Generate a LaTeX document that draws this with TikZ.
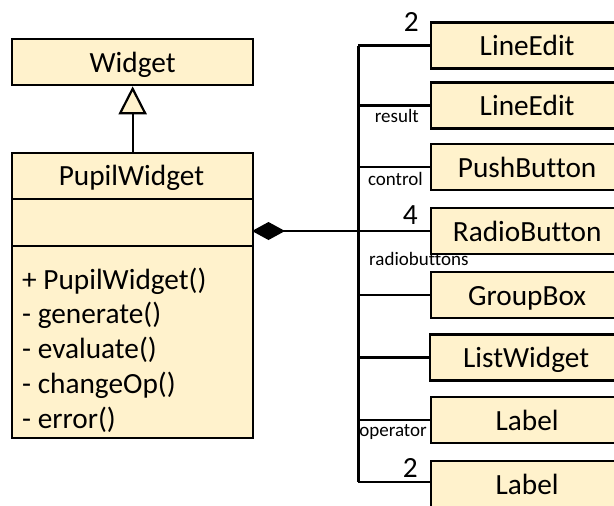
\documentclass[tikz,border=0pt]{standalone}
\usepackage{fontspec}
\setmainfont{Carlito}[Ligatures=NoCommon]
\usetikzlibrary{arrows.meta}
\definecolor{boxfill}{HTML}{FFF2CC}
\tikzset{
  bigfont/.style={font=\fontsize{29.3}{35}\selectfont},
  classbox/.style={draw=black, line width=2.3pt, fill=boxfill, rectangle, inner sep=0pt,
    bigfont, text height=20.5pt, text depth=0.5pt},
  partbox/.style={classbox, minimum width=192pt, minimum height=46pt, anchor=west},
  wire/.style={line width=2.2pt},
  busline/.style={line width=3pt},
  roletext/.style={font=\fontsize{19}{22}\selectfont, inner sep=0pt},
  multtext/.style={bigfont, inner sep=0pt},
  methodtext/.style={bigfont, inner sep=0pt, anchor=base west}
}
\begin{document}
\begin{tikzpicture}[x=1pt, y=-1pt]
\useasboundingbox (0,0) rectangle (614,506);
\clip (0,0) rectangle (614,506);

% superclass
\node[classbox, minimum width=241pt, minimum height=46pt, anchor=north west] (widget) at (11,38) {Widget};

% PupilWidget class with its three compartments
\node[classbox, minimum width=241pt, minimum height=285pt, anchor=north west] (pw) at (11,152) {};
\node[bigfont, inner sep=0pt, text height=20.5pt, text depth=0.5pt] (pwname) at (131.5,175.5) {PupilWidget};
\coordinate (d1l) at (11,199);
\coordinate (d1r) at (252,199);
\coordinate (d2l) at (11,246);
\coordinate (d2r) at (252,246);
\draw[line width=2.3pt] (d1l) -- (d1r);
\draw[line width=2.3pt] (d2l) -- (d2r);
\node[methodtext] (m1) at (22,289) {+ PupilWidget()};
\node[methodtext] (m2) at (22,323.5) {- generate()};
\node[methodtext] (m3) at (22,358) {- evaluate()};
\node[methodtext] (m4) at (22,393) {- changeOp()};
\node[methodtext] (m5) at (22,428) {- error()};

% generalisation
\draw[line width=2.2pt, -{Triangle[open, fill=boxfill, length=28pt, width=28pt, line width=2.2pt]}] (pw.north) -- (widget.south);

% component classes
\node[partbox] (le1) at (430,45.5) {LineEdit};
\node[partbox] (le2) at (430,105.5) {LineEdit};
\node[partbox] (pb)  at (430,167) {PushButton};
\node[partbox] (rb)  at (430,231) {RadioButton};
\node[partbox] (gb)  at (430,295) {GroupBox};
\node[partbox] (lw)  at (429,357.5) {ListWidget};
\node[partbox] (lb1) at (430,420) {Label};
\node[partbox, minimum height=52pt, text depth=6.5pt] (lb2) at (430,487) {Label};

% composition bus
\coordinate (bustop) at (358,45.5);
\coordinate (busbot) at (358,482);
\coordinate (busmid) at (358,231);
\coordinate (dstart) at (252,231);
\coordinate (lb2in) at (430,482);
\draw[busline] (bustop) -- (busbot);
\draw[wire, {Diamond[length=33pt, width=18pt]}-] (dstart) -- (busmid);
\foreach \n in {le1,le2,pb,rb,gb,lw,lb1}
  \draw[wire] (\n.west) -- (\n.west -| bustop);
\draw[wire] (lb2in) -- (busbot);

% role names and multiplicities
\node[multtext, anchor=base east] (m2a) at (419,31) {2};
\node[roletext, anchor=base east] (rres) at (419,122) {result};
\node[roletext, anchor=base east] (rctl) at (423,185) {control};
\node[multtext, anchor=base east] (m4a) at (418,224) {4};
\node[roletext, anchor=base west] (rrad) at (369,265) {radiobuttons};
\node[roletext, anchor=base east] (ropr) at (427,436) {operator};
\node[multtext, anchor=base east] (m2b) at (418,477) {2};
\end{tikzpicture}
\end{document}
